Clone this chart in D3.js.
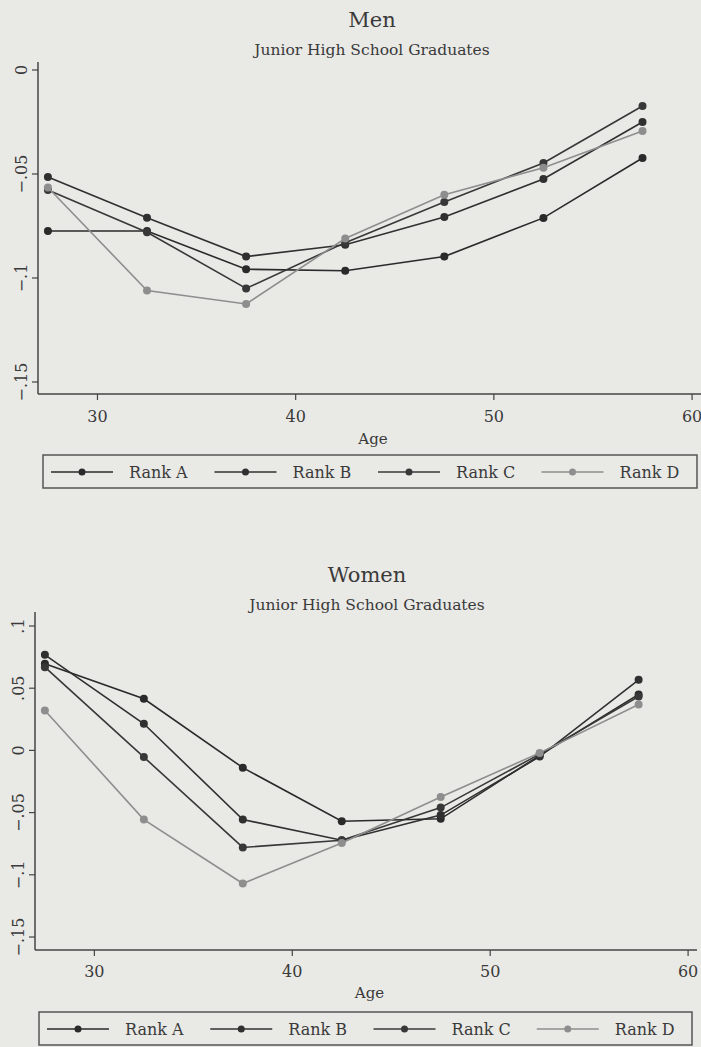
<!DOCTYPE html>
<html>
<head>
<meta charset="utf-8">
<script src="https://cdn.jsdelivr.net/npm/d3@7"></script>
<style>
  body { margin: 0; background: #e9e9e6; }
  svg { display: block; }
  text { font-family: 'DejaVu Serif', 'Liberation Serif', serif; fill: #3a3a3a; }
</style>
</head>
<body>
<svg width="701" height="1047"></svg>
<script>
const ages = [27.5, 32.5, 37.5, 42.5, 47.5, 52.5, 57.5];
const ranks = ['Rank A', 'Rank B', 'Rank C', 'Rank D'];
const xTicks = [30, 40, 50, 60];
const yTicks = [0.1, 0.05, 0, -0.05, -0.1, -0.15];

const menA = [-0.0774, -0.0774, -0.0958, -0.0965, -0.0897, -0.0711, -0.0423];
const menB = [-0.0514, -0.071, -0.0897, -0.084, -0.0707, -0.0524, -0.025];
const menC = [-0.0577, -0.078, -0.105, -0.083, -0.0635, -0.0447, -0.0173];
const menD = [-0.0565, -0.106, -0.1125, -0.081, -0.06, -0.047, -0.0293];

const womenA = [0.0696, 0.0415, -0.0139, -0.057, -0.055, -0.004, 0.045];
const womenB = [0.0768, 0.0214, -0.0556, -0.0722, -0.052, -0.005, 0.0567];
const womenC = [0.0669, -0.0054, -0.078, -0.0722, -0.046, -0.003, 0.0433];
const womenD = [0.0321, -0.0556, -0.107, -0.0744, -0.0375, -0.002, 0.0369];

const colors = ['#2a2a2a', '#303030', '#383838', '#8e8e8e'];

const svg = d3.select('svg');

function fmt(v) {
  if (v === 0) return '0';
  const s = d3.format('.2~f')(Math.abs(v)).replace(/^0/, '');
  return (v < 0 ? '\u2212' : '') + s;
}

function drawPanel(p) {
  const g = svg.append('g');
  const x = d3.scaleLinear().domain([27, 60.45]).range([p.left, p.right]);
  const y = d3.scaleLinear().domain([-0.15, p.yMax]).range([p.y15, p.yTop]);

  g.append('text').attr('x', p.cx).attr('y', p.titleY)
    .attr('text-anchor', 'middle').attr('font-size', 21).text(p.title);
  g.append('text').attr('x', p.cx).attr('y', p.titleY + 28)
    .attr('text-anchor', 'middle').attr('font-size', 15.5).text('Junior High School Graduates');

  // axes
  g.append('line').attr('x1', p.left).attr('x2', p.left)
    .attr('y1', p.axisTop).attr('y2', p.axisBottom)
    .attr('stroke', '#444').attr('stroke-width', 1.5);
  g.append('line').attr('x1', p.left).attr('x2', p.right)
    .attr('y1', p.axisBottom).attr('y2', p.axisBottom)
    .attr('stroke', '#444').attr('stroke-width', 1.5);

  const yt = yTicks.filter((v) => v <= p.yMax + 1e-9);
  g.selectAll('.ytick').data(yt).enter().append('line')
    .attr('x1', p.left - 6).attr('x2', p.left)
    .attr('y1', (d) => y(d)).attr('y2', (d) => y(d))
    .attr('stroke', '#444').attr('stroke-width', 1.2);
  g.selectAll('.ylab').data(yt).enter().append('text')
    .attr('transform', (d) => `translate(${p.left - 11},${y(d)}) rotate(-90)`)
    .attr('text-anchor', 'middle').attr('font-size', 16)
    .text(fmt);

  g.selectAll('.xtick').data(xTicks).enter().append('line')
    .attr('x1', (d) => x(d)).attr('x2', (d) => x(d))
    .attr('y1', p.axisBottom).attr('y2', p.axisBottom + 6)
    .attr('stroke', '#444').attr('stroke-width', 1.2);
  g.selectAll('.xlab').data(xTicks).enter().append('text')
    .attr('x', (d) => x(d)).attr('y', p.axisBottom + p.tickLabDy)
    .attr('text-anchor', 'middle').attr('font-size', 16)
    .text((d) => d);
  g.append('text').attr('x', x(43.9)).attr('y', p.axisBottom + p.ageDy)
    .attr('text-anchor', 'middle').attr('font-size', 15).text('Age');

  // series, gray one drawn last
  const line = d3.line().x((d) => x(d[0])).y((d) => y(d[1]));
  p.series.forEach((vals, i) => {
    const pts = ages.map((a, j) => [a, vals[j]]);
    g.append('path').datum(pts).attr('d', line)
      .attr('fill', 'none').attr('stroke', colors[i]).attr('stroke-width', 1.6);
    g.selectAll(null).data(pts).enter().append('circle')
      .attr('cx', (d) => x(d[0])).attr('cy', (d) => y(d[1]))
      .attr('r', 4).attr('fill', colors[i]);
  });

  // legend
  const lg = g.append('g');
  lg.append('rect').attr('x', p.legX).attr('y', p.legY)
    .attr('width', p.legW).attr('height', 33)
    .attr('fill', 'none').attr('stroke', '#555').attr('stroke-width', 1.5);
  const slot = p.legW / 4;
  ranks.forEach((r, i) => {
    const x0 = p.legX + 8 + i * slot;
    const cy = p.legY + 17;
    lg.append('line').attr('x1', x0).attr('x2', x0 + 62)
      .attr('y1', cy).attr('y2', cy)
      .attr('stroke', colors[i]).attr('stroke-width', 1.6);
    lg.append('circle').attr('cx', x0 + 31).attr('cy', cy).attr('r', 3.5)
      .attr('fill', colors[i]);
    lg.append('text').attr('x', x0 + 78).attr('y', cy + 6)
      .attr('font-size', 16).text(r);
  });
}

drawPanel({
  title: 'Men', cx: 372, titleY: 27,
  left: 38, right: 701, yTop: 70, y15: 382, yMax: 0,
  axisTop: 62, axisBottom: 394, tickLabDy: 28, ageDy: 50,
  legX: 43, legY: 455, legW: 654,
  series: [menA, menB, menC, menD]
});

drawPanel({
  title: 'Women', cx: 367, titleY: 582,
  left: 35, right: 697, yTop: 626, y15: 937, yMax: 0.1,
  axisTop: 612, axisBottom: 950, tickLabDy: 27, ageDy: 48,
  legX: 39, legY: 1012, legW: 653,
  series: [womenA, womenB, womenC, womenD]
});
</script>
</body>
</html>
